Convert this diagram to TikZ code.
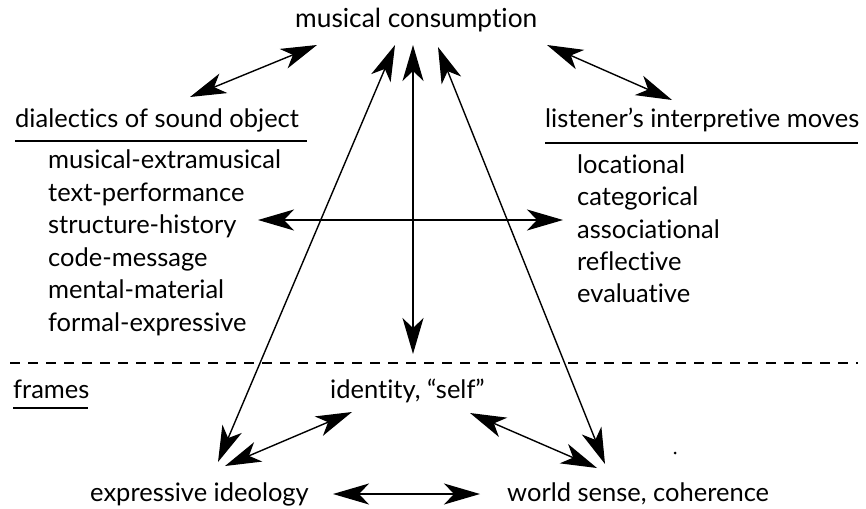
\documentclass[tikz,border=0pt]{standalone}
\usepackage{fontspec}
\setmainfont{Lato}[Ligatures={NoCommon}]
\usetikzlibrary{arrows.meta}
\begin{document}
\begin{tikzpicture}[x=1pt,y=-1pt,
  lbl/.style={anchor=base west,inner sep=0pt,font=\fontsize{25.5}{28}\selectfont},
  dbl/.style={line width=1.4pt,{Stealth[length=36pt,width=21pt,inset=10pt]}-{Stealth[length=36pt,width=21pt,inset=10pt]}},
  rule/.style={line width=1.6pt}]
\useasboundingbox (0,0) rectangle (866,508);

% headings and lists
\node[lbl,font=\fontsize{26.3}{28}\selectfont] (mc) at (295,28) {musical consumption};
\node[lbl] (dso) at (15,128) {dialectics of sound object};
\node[lbl] (lim) at (545,128) {listener’s interpretive moves};
\draw[rule] (dso.base west |- 0,141) -- (307,141);
\draw[rule] (lim.base west |- 0,143) -- (858,143);

\node[lbl] (d1) at (48,168) {musical-extramusical};
\node[lbl] (d2) at (48,201) {text-performance};
\node[lbl] (d3) at (48,233) {structure-history};
\node[lbl] (d4) at (48,266) {code-message};
\node[lbl] (d5) at (48,298) {mental-material};
\node[lbl] (d6) at (48,331) {formal-expressive};

\node[lbl] (l1) at (577,173) {locational};
\node[lbl] (l2) at (577,205) {categorical};
\node[lbl] (l3) at (577,238) {associational};
\node[lbl] (l4) at (577,270) {reflective};
\node[lbl] (l5) at (577,302) {evaluative};

% frames section
\draw[line width=1.4pt,dash pattern=on 10pt off 8pt] (10,363) -- (858,363);
\node[lbl] (fr) at (13,398) {frames};
\draw[rule] (13,408) -- (88,408);
\node[lbl] (id) at (330,398) {identity, “self”};
\node[lbl] (ei) at (90,501) {expressive ideology};
\node[lbl] (ws) at (507,501) {world sense, coherence};

% arrow end points
\coordinate (mcL) at (395,45);
\coordinate (mcM) at (413,45);
\coordinate (mcR) at (438,47);
\coordinate (eiT) at (218,462);
\coordinate (ctr) at (413,354);
\coordinate (wsT) at (605,464);
\coordinate (dsoA) at (190,97);
\coordinate (mcA) at (317,45);
\coordinate (mcB) at (547,45);
\coordinate (limA) at (672,100);
\coordinate (hL) at (258,220);
\coordinate (hR) at (563,220);
\coordinate (idL) at (352,412);
\coordinate (eiR) at (225,466);
\coordinate (idR) at (470,413);
\coordinate (wsL) at (597,468);
\coordinate (eiE) at (333,494);
\coordinate (wsW) at (480,494);

\draw[dbl] (dsoA) -- (mcA);
\draw[dbl] (mcB) -- (limA);
\draw[dbl] (mcL) -- (eiT);
\draw[dbl] (mcM) -- (ctr);
\draw[dbl] (mcR) -- (wsT);
\draw[dbl] (hL) -- (hR);
\draw[dbl] (idL) -- (eiR);
\draw[dbl] (idR) -- (wsL);
\draw[dbl] (eiE) -- (wsW);

\fill (675,453) circle (1.5pt);
\end{tikzpicture}
\end{document}
